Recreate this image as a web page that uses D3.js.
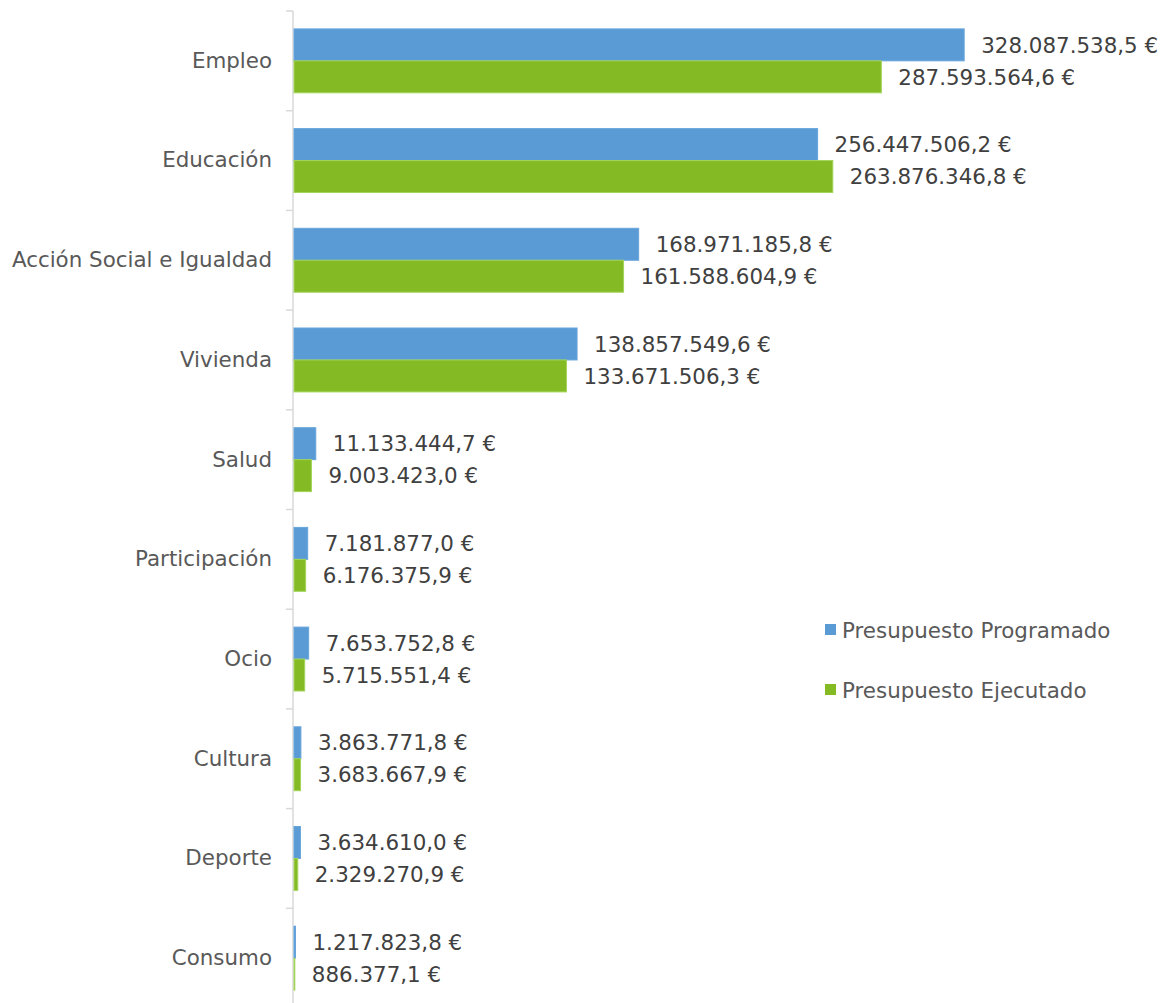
<!DOCTYPE html>
<html>
<head>
<meta charset="utf-8">
<script src="https://cdn.jsdelivr.net/npm/d3@7"></script>
<style>
  body { margin: 0; background: #fff; }
  svg text { font-family: "DejaVu Sans", Verdana, sans-serif; }
</style>
</head>
<body>
<div id="grafico"></div>
<script>
const WIDTH = 1169;
const HEIGHT = 1003;

// data
const categories = ["Empleo", "Educación", "Acción Social e Igualdad", "Vivienda", "Salud",
  "Participación", "Ocio", "Cultura", "Deporte", "Consumo"];
const programado = [328087538.5, 256447506.2, 168971185.8, 138857549.6, 11133444.7,
  7181877.0, 7653752.8, 3863771.8, 3634610.0, 1217823.8];
const ejecutado = [287593564.6, 263876346.8, 161588604.9, 133671506.3, 9003423.0,
  6176375.9, 5715551.4, 3683667.9, 2329270.9, 886377.1];
const seriesNames = ["Presupuesto Programado", "Presupuesto Ejecutado"];
const seriesColors = ["#5b9bd5", "#84bb25"];
const seriesStroke = ["#67a5dc", "#a3d45a"];

const FONT = "21.4px";

const locale = d3.formatLocale({decimal: ",", thousands: ".", grouping: [3], currency: ["", " €"]});
const fmt = locale.format(",.1f");

let svg = d3.select("#grafico")
  .append("svg")
  .attr("width", WIDTH)
  .attr("height", HEIGHT);

let x = d3.scaleLinear()
  .domain([0, 350000000])
  .range([293, 1009]);

let y = d3.scaleBand()
  .domain(categories)
  .range([11, 1008]);

let ySeries = d3.scaleBand()
  .domain([0, 1])
  .range([0, y.bandwidth()])
  .paddingOuter(0.56);

// axis line + boundary ticks
svg.append("line")
  .attr("x1", x(0)).attr("x2", x(0))
  .attr("y1", y.range()[0]).attr("y2", HEIGHT)
  .style("stroke", "#d9d9d9")
  .style("stroke-width", 1.5);

svg.selectAll(".bticks")
  .data(categories)
  .enter()
  .append("line")
  .attr("x1", x(0) - 7).attr("x2", x(0))
  .attr("y1", d => y(d)).attr("y2", d => y(d))
  .style("stroke", "#d9d9d9")
  .style("stroke-width", 1.5);

// category labels
let yAxis = svg.append("g")
  .attr("transform", `translate(${x(0)},0)`)
  .call(d3.axisLeft(y).tickSize(0).tickPadding(21));
yAxis.select(".domain").remove();
yAxis.selectAll("text")
  .style("font-size", FONT)
  .style("fill", "#595959")
  .style("font-family", "DejaVu Sans, Verdana, sans-serif");

let rows = [];
categories.forEach((c, i) => {
  rows.push({cat: c, s: 0, v: programado[i]});
  rows.push({cat: c, s: 1, v: ejecutado[i]});
});

svg.selectAll(".bar")
  .data(rows)
  .enter()
  .append("rect")
  .attr("x", x(0) + 1)
  .attr("y", d => y(d.cat) + ySeries(d.s))
  .attr("width", d => Math.max(0.8, x(d.v) - x(0) - 1))
  .attr("height", ySeries.bandwidth())
  .style("fill", d => seriesColors[d.s])
  .style("stroke", d => seriesStroke[d.s])
  .style("stroke-width", 1);

svg.selectAll(".vlabel")
  .data(rows)
  .enter()
  .append("text")
  .attr("x", d => x(d.v) + 17)
  .attr("y", d => y(d.cat) + ySeries(d.s) + ySeries.bandwidth() / 2)
  .attr("dy", "0.36em")
  .style("font-size", FONT)
  .style("fill", "#404040")
  .text(d => fmt(d.v) + " €");

// legend
let legend = svg.selectAll(".legend")
  .data(seriesNames)
  .enter()
  .append("g")
  .attr("transform", (d, i) => `translate(825,${630 + i * 60})`);

legend.append("rect")
  .attr("x", 0).attr("y", -6)
  .attr("width", 11).attr("height", 11)
  .style("fill", (d, i) => seriesColors[i]);

legend.append("text")
  .attr("x", 17)
  .attr("y", 0)
  .attr("dy", "0.36em")
  .style("font-size", FONT)
  .style("fill", "#595959")
  .text(d => d);
</script>
</body>
</html>
